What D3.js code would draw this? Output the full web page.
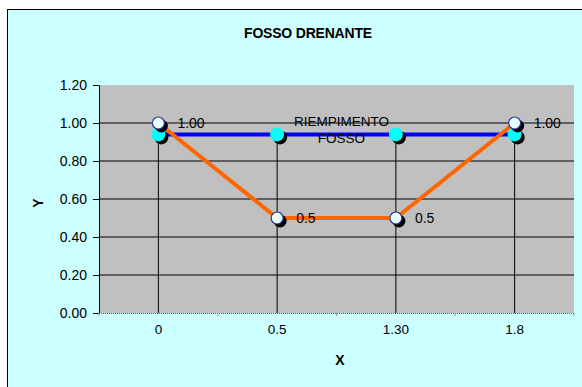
<!DOCTYPE html>
<html>
<head>
<meta charset="utf-8">
<script src="https://cdn.jsdelivr.net/npm/d3@7"></script>
<style>
  body { margin: 0; background: #fff; }
  text { font-family: Arial, "Liberation Sans", sans-serif; }
</style>
</head>
<body>
<svg id="chart" width="582" height="387"></svg>
<script>
// dati
const categories = ["0", "0.5", "1.30", "1.8"];
const fossoValues = [1.00, 0.5, 0.5, 1.00];
const fossoLabels = ["1.00", "0.5", "0.5", "1.00"];
const riempimentoValues = [0.94, 0.94, 0.94, 0.94];
const yTicks = [0, 0.2, 0.4, 0.6, 0.8, 1.0, 1.2];

const svg = d3.select("#chart");
const margin = { top: 85, right: 8, bottom: 74, left: 99 };
const width = +svg.attr("width") - margin.left - margin.right;
const height = +svg.attr("height") - margin.top - margin.bottom;

// sfondo area grafico
svg.append("rect")
    .attr("x", 7.5).attr("y", 9.5)
    .attr("width", 600).attr("height", 400)
    .attr("fill", "#ccffff")
    .attr("stroke", "#000")
    .attr("stroke-width", 1);

svg.append("text")
    .attr("x", 308).attr("y", 38)
    .attr("text-anchor", "middle")
    .style("font-size", "14px")
    .style("font-weight", "bold")
    .style("letter-spacing", "-0.2px")
    .text("FOSSO DRENANTE");

const g = svg.append("g").attr("transform", `translate(${margin.left},${margin.top})`);

const x = d3.scaleBand().domain(categories).range([0, width]);
const y = d3.scaleLinear().domain([0, 1.2]).range([height, 0]);
const cx = d => x(d) + x.bandwidth() / 2;

// area grigia
g.append("rect")
    .attr("width", width).attr("height", height)
    .attr("fill", "#c0c0c0");

// griglia orizzontale
g.selectAll(".grid")
    .data(yTicks.filter(t => t > 0 && t < 1.2))
    .enter().append("line")
    .attr("x1", 0).attr("x2", width)
    .attr("y1", d => y(d)).attr("y2", d => y(d))
    .attr("stroke", "#000").attr("stroke-width", 1);

// linee di proiezione
g.selectAll(".drop")
    .data(categories)
    .enter().append("line")
    .attr("x1", d => cx(d)).attr("x2", d => cx(d))
    .attr("y1", (d, i) => y(Math.max(fossoValues[i], riempimentoValues[i])))
    .attr("y2", height)
    .attr("stroke", "#000").attr("stroke-width", 1);

// asse Y
const yAxis = g.append("g")
    .call(d3.axisLeft(y).tickValues(yTicks).tickFormat(d3.format(".2f")).tickSize(6).tickSizeOuter(0));
yAxis.select(".domain").attr("stroke", "#000");
yAxis.selectAll("text").style("font-size", "14px").attr("fill", "#000").attr("dx", "-3");

// asse X
const xAxis = g.append("g")
    .attr("transform", `translate(0,${height})`)
    .call(d3.axisBottom(x).tickSize(0).tickPadding(11));
xAxis.select(".domain").remove();
xAxis.selectAll("text").style("font-size", "13.5px").attr("fill", "#000");
g.append("line")
    .attr("x1", 0).attr("x2", width)
    .attr("y1", height + 0.5).attr("y2", height + 0.5)
    .attr("stroke", "#555").attr("stroke-dasharray", "1,1");
g.selectAll(".xtick")
    .data(d3.range(categories.length + 1))
    .enter().append("line")
    .attr("x1", i => i * x.bandwidth()).attr("x2", i => i * x.bandwidth())
    .attr("y1", height).attr("y2", height + 3)
    .attr("stroke", "#999");

svg.append("text")
    .attr("x", 340).attr("y", 365)
    .attr("text-anchor", "middle")
    .style("font-size", "14px").style("font-weight", "bold")
    .text("X");
svg.append("text")
    .attr("transform", "translate(43,203) rotate(-90)")
    .attr("text-anchor", "middle")
    .style("font-size", "14px").style("font-weight", "bold")
    .text("Y");

const line = d3.line().x((d, i) => cx(categories[i])).y(d => y(d));

// riempimento
g.append("path")
    .datum(riempimentoValues)
    .attr("d", line)
    .attr("fill", "none").attr("stroke", "#0000ff").attr("stroke-width", 4);

// fosso
g.append("path")
    .datum(fossoValues)
    .attr("d", line)
    .attr("fill", "none").attr("stroke", "#ff6600").attr("stroke-width", 4);

// marcatori riempimento
g.selectAll(".rShadow")
    .data(riempimentoValues).enter().append("circle")
    .attr("cx", (d, i) => cx(categories[i]) + 3).attr("cy", d => y(d) + 3)
    .attr("r", 7).attr("fill", "#000");
g.selectAll(".rDot")
    .data(riempimentoValues).enter().append("circle")
    .attr("cx", (d, i) => cx(categories[i])).attr("cy", d => y(d))
    .attr("r", 7).attr("fill", "#00ffff");

// marcatori fosso
g.selectAll(".fShadow")
    .data(fossoValues).enter().append("circle")
    .attr("cx", (d, i) => cx(categories[i]) + 3).attr("cy", d => y(d) + 3)
    .attr("r", 6.5).attr("fill", "#000");
g.selectAll(".fDot")
    .data(fossoValues).enter().append("circle")
    .attr("cx", (d, i) => cx(categories[i])).attr("cy", d => y(d))
    .attr("r", 6).attr("fill", "#e8ffff")
    .attr("stroke", "#333399").attr("stroke-width", 1.2);

// etichette
g.selectAll(".fLabel")
    .data(fossoValues).enter().append("text")
    .attr("x", (d, i) => cx(categories[i]) + 19).attr("y", d => y(d))
    .attr("dy", "0.35em")
    .style("font-size", "14px")
    .text((d, i) => fossoLabels[i]);

const rx = (cx(categories[1]) + cx(categories[2])) / 2 + 5;
const rLabel = g.append("text")
    .attr("x", rx).attr("y", y(riempimentoValues[1]) - 8)
    .attr("text-anchor", "middle")
    .style("font-size", "13.5px");
rLabel.append("tspan").attr("x", rx).attr("dy", 0).text("RIEMPIMENTO");
rLabel.append("tspan").attr("x", rx).attr("dy", 16.5).text("FOSSO");
</script>
</body>
</html>
